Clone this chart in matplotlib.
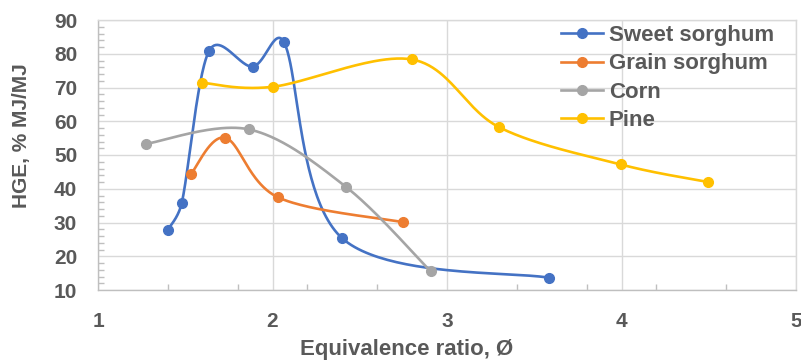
import numpy as np
import matplotlib
matplotlib.use('Agg')
import matplotlib.pyplot as plt
from matplotlib.ticker import MultipleLocator, FixedLocator

TXT = '#595959'
GRID = '#d9d9d9'
AXIS = '#bfbfbf'

series_names = ['Sweet sorghum', 'Grain sorghum', 'Corn', 'Pine']
series_colors = ['#4472c4', '#ed7d31', '#a5a5a5', '#ffc000']

sweet_x = [1.40, 1.48, 1.636, 1.886, 2.066, 2.40, 3.586]
sweet_y = [27.8, 35.8, 80.8, 76.2, 83.4, 25.3, 13.6]
grain_x = [1.533, 1.73, 2.03, 2.746]
grain_y = [44.4, 55.1, 37.5, 30.1]
corn_x = [1.275, 1.864, 2.42, 2.907]
corn_y = [53.3, 57.6, 40.6, 15.5]
pine_x = [1.598, 2.0, 2.80, 3.30, 3.995, 4.496]
pine_y = [71.4, 70.2, 78.3, 58.2, 47.2, 42.0]

xs = [sweet_x, grain_x, corn_x, pine_x]
ys = [sweet_y, grain_y, corn_y, pine_y]

XLIM = (1, 5)
YLIM = (10, 90)
AX_W, AX_H = 698, 270   # axes size in pixels


def smooth(x, y, n=50):
    # spreadsheet-style smoothed line: cubic Bezier per segment, control arms
    # of 1/6 the neighbour chord, capped at half the segment length (screen space)
    sx = AX_W / (XLIM[1] - XLIM[0])
    sy = AX_H / (YLIM[1] - YLIM[0])
    p = np.column_stack([np.asarray(x) * sx, np.asarray(y) * sy])
    m = len(p)
    t = np.linspace(0, 1, n)[:, None]
    out = []
    for i in range(m - 1):
        p1, p2 = p[i], p[i + 1]
        p0 = p[i - 1] if i > 0 else p1
        p3 = p[i + 2] if i + 2 < m else p2
        d12 = np.hypot(*(p2 - p1))
        d02 = np.hypot(*(p2 - p0))
        d13 = np.hypot(*(p3 - p1))
        f0 = 1 / 6 if d02 / 6 < d12 / 2 else d12 / 2 / d02
        f1 = 1 / 6 if d13 / 6 < d12 / 2 else d12 / 2 / d13
        c1 = p1 + (p2 - p0) * f0
        c2 = p2 - (p3 - p1) * f1
        seg = (1 - t) ** 3 * p1 + 3 * (1 - t) ** 2 * t * c1 + 3 * (1 - t) * t ** 2 * c2 + t ** 3 * p2
        out.append(seg if i == 0 else seg[1:])
    c = np.vstack(out)
    return c[:, 0] / sx, c[:, 1] / sy


plt.rcParams['font.family'] = ['Liberation Sans', 'DejaVu Sans']
plt.rcParams['font.weight'] = 'bold'

fig = plt.figure(figsize=(8.01, 3.61), dpi=100)
ax = fig.add_axes([98 / 801, 1 - 290 / 361, AX_W / 801, AX_H / 361])

for x, y, name, col in zip(xs, ys, series_names, series_colors):
    cx, cy = smooth(x, y)
    ax.plot(cx, cy, color=col, linewidth=1.9, zorder=3, solid_capstyle='round')
    ax.plot(x, y, linestyle='none', marker='o', markersize=7, color=col, zorder=4)
    ax.plot([], [], color=col, linewidth=1.9, marker='o', markersize=7, label=name)

ax.set_xlim(*XLIM)
ax.set_ylim(*YLIM)
ax.xaxis.set_major_locator(MultipleLocator(1))
ax.xaxis.set_minor_locator(FixedLocator(np.arange(1.4, 5.0, 0.4)))
ax.yaxis.set_major_locator(MultipleLocator(10))
ax.yaxis.set_minor_locator(MultipleLocator(2))
ax.grid(which='major', color=GRID, linewidth=1.0)
ax.set_axisbelow(True)
for s in ax.spines.values():
    s.set_color(GRID)
    s.set_linewidth(1.0)
ax.spines['left'].set_color(AXIS)
ax.spines['bottom'].set_color(AXIS)
ax.tick_params(which='major', length=0, labelsize=15, labelcolor=TXT)
ax.tick_params(axis='y', which='major', pad=15)
ax.tick_params(axis='x', which='major', pad=16)
ax.tick_params(which='minor', direction='in', length=4, width=1.0, color=AXIS)
for lab in ax.get_xticklabels() + ax.get_yticklabels():
    lab.set_fontweight('bold')

fig.text(407 / 801, 1 - 349 / 361, 'Equivalence ratio, Ø', ha='center', va='center',
         fontsize=16, fontweight='bold', color=TXT)
fig.text(22 / 801, 1 - 136 / 361, 'HGE, % MJ/MJ', ha='center', va='center', rotation=90,
         fontsize=15, fontweight='bold', color=TXT)

leg = fig.legend(loc='upper left', bbox_to_anchor=(561 / 801, 1 - 25 / 361),
                 frameon=False, fontsize=16, handlelength=1.9, handletextpad=0.25,
                 labelspacing=0.33, borderaxespad=0, borderpad=0)
for t in leg.get_texts():
    t.set_color(TXT)
    t.set_fontweight('bold')

fig.savefig('out.png', dpi=100)
